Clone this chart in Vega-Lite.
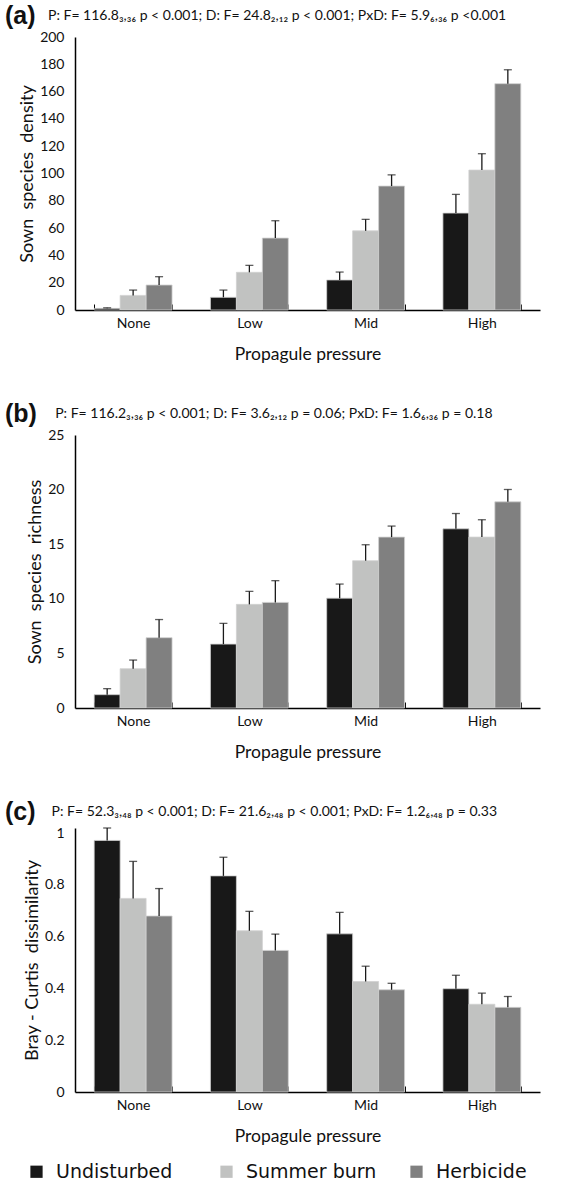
{
  "$schema": "https://vega.github.io/schema/vega-lite/v6.json",
  "padding": {"left": 5, "top": 4, "right": 2, "bottom": 5},
  "background": "white",
  "datasets": {
    "bars": [
      {"panel": "a", "pressure": "None", "treatment": "Undisturbed", "value": 1.2, "err": 1.6},
      {"panel": "a", "pressure": "None", "treatment": "Summer burn", "value": 10.7, "err": 14.6},
      {"panel": "a", "pressure": "None", "treatment": "Herbicide", "value": 18.3, "err": 24.4},
      {"panel": "a", "pressure": "Low", "treatment": "Undisturbed", "value": 9.3, "err": 14.6},
      {"panel": "a", "pressure": "Low", "treatment": "Summer burn", "value": 27.6, "err": 32.7},
      {"panel": "a", "pressure": "Low", "treatment": "Herbicide", "value": 52.7, "err": 65.4},
      {"panel": "a", "pressure": "Mid", "treatment": "Undisturbed", "value": 22.0, "err": 27.8},
      {"panel": "a", "pressure": "Mid", "treatment": "Summer burn", "value": 58.0, "err": 66.4},
      {"panel": "a", "pressure": "Mid", "treatment": "Herbicide", "value": 90.8, "err": 99.0},
      {"panel": "a", "pressure": "High", "treatment": "Undisturbed", "value": 71.0, "err": 84.7},
      {"panel": "a", "pressure": "High", "treatment": "Summer burn", "value": 102.5, "err": 114.5},
      {"panel": "a", "pressure": "High", "treatment": "Herbicide", "value": 165.8, "err": 176.0},
      {"panel": "b", "pressure": "None", "treatment": "Undisturbed", "value": 1.22, "err": 1.77},
      {"panel": "b", "pressure": "None", "treatment": "Summer burn", "value": 3.6, "err": 4.39},
      {"panel": "b", "pressure": "None", "treatment": "Herbicide", "value": 6.44, "err": 8.1},
      {"panel": "b", "pressure": "Low", "treatment": "Undisturbed", "value": 5.85, "err": 7.75},
      {"panel": "b", "pressure": "Low", "treatment": "Summer burn", "value": 9.49, "err": 10.68},
      {"panel": "b", "pressure": "Low", "treatment": "Herbicide", "value": 9.67, "err": 11.66},
      {"panel": "b", "pressure": "Mid", "treatment": "Undisturbed", "value": 10.06, "err": 11.35},
      {"panel": "b", "pressure": "Mid", "treatment": "Summer burn", "value": 13.49, "err": 14.95},
      {"panel": "b", "pressure": "Mid", "treatment": "Herbicide", "value": 15.65, "err": 16.66},
      {"panel": "b", "pressure": "High", "treatment": "Undisturbed", "value": 16.41, "err": 17.81},
      {"panel": "b", "pressure": "High", "treatment": "Summer burn", "value": 15.65, "err": 17.24},
      {"panel": "b", "pressure": "High", "treatment": "Herbicide", "value": 18.88, "err": 20.01},
      {"panel": "c", "pressure": "None", "treatment": "Undisturbed", "value": 0.972, "err": 1.02},
      {"panel": "c", "pressure": "None", "treatment": "Summer burn", "value": 0.748, "err": 0.891},
      {"panel": "c", "pressure": "None", "treatment": "Herbicide", "value": 0.68, "err": 0.786},
      {"panel": "c", "pressure": "Low", "treatment": "Undisturbed", "value": 0.835, "err": 0.907},
      {"panel": "c", "pressure": "Low", "treatment": "Summer burn", "value": 0.623, "err": 0.698},
      {"panel": "c", "pressure": "Low", "treatment": "Herbicide", "value": 0.547, "err": 0.61},
      {"panel": "c", "pressure": "Mid", "treatment": "Undisturbed", "value": 0.611, "err": 0.694},
      {"panel": "c", "pressure": "Mid", "treatment": "Summer burn", "value": 0.427, "err": 0.486},
      {"panel": "c", "pressure": "Mid", "treatment": "Herbicide", "value": 0.395, "err": 0.42},
      {"panel": "c", "pressure": "High", "treatment": "Undisturbed", "value": 0.399, "err": 0.451},
      {"panel": "c", "pressure": "High", "treatment": "Summer burn", "value": 0.339, "err": 0.382},
      {"panel": "c", "pressure": "High", "treatment": "Herbicide", "value": 0.327, "err": 0.369}
    ]
  },
  "config": {
    "view": {"stroke": null},
    "font": "Lato",
    "axis": {
      "domainColor": "#000000",
      "domainWidth": 1.5,
      "labelFont": "Lato",
      "labelFontSize": 14,
      "labelColor": "#111111",
      "labelOverlap": false,
      "labelSeparation": -20,
      "titleFont": "Lato",
      "titleFontSize": 17.5,
      "titleFontWeight": "normal",
      "titleColor": "#111111",
      "grid": false
    },
    "axisQuantitative": {"labelOverlap": false, "labelSeparation": -20},
    "axisX": {
      "tickBand": "extent",
      "tickColor": "#000000",
      "tickSize": -6,
      "labelAngle": 0,
      "labelPadding": 12,
      "titlePadding": 15
    },
    "axisY": {
      "ticks": false,
      "labelPadding": 11,
      "titlePadding": 3,
      "titleFontSize": 18,
      "labelOverlap": false
    },
    "title": {
      "anchor": "start",
      "frame": "group",
      "font": "Liberation Sans",
      "fontSize": 25,
      "fontWeight": "bold",
      "color": "#111111",
      "dx": -70,
      "offset": 1,
      "subtitleFont": "Lato",
      "subtitleFontSize": 14,
      "subtitleColor": "#111111",
      "subtitlePadding": -20
    },
    "legend": {
      "orient": "none",
      "legendX": -48,
      "legendY": 1125,
      "direction": "horizontal",
      "title": null,
      "symbolType": "square",
      "symbolSize": 150,
      "symbolStrokeWidth": 0,
      "labelFont": "DejaVu Sans",
      "labelFontSize": 19,
      "labelColor": "#111111",
      "gridAlign": "all",
      "columnPadding": 30,
      "labelOffset": 10
    },
    "concat": {"spacing": 39}
  },
  "resolve": {"scale": {"color": "shared"}, "legend": {"color": "shared"}},
  "vconcat": [
    {
      "width": 465,
      "height": 273,
      "data": {"name": "bars"},
      "transform": [{"filter": "datum.panel == 'a'"}],
      "title": {"text": "(a)", "subtitle": "\u200b\u00a0\u00a0\u00a0\u00a0\u00a0\u00a0\u00a0\u00a0\u00a0\u00a0\u00a0\u00a0P: F= 116.8\u2083,\u2083\u2086 p < 0.001; D: F= 24.8\u2082,\u2081\u2082 p < 0.001; PxD: F= 5.9\u2086,\u2083\u2086 p <0.001"},
      "encoding": {
        "x": {"field": "pressure", "type": "nominal", "sort": ["None", "Low", "Mid", "High"], "scale": {"paddingInner": 0.33, "paddingOuter": 0.165}, "axis": {"title": "Propagule pressure"}},
        "xOffset": {"field": "treatment", "type": "nominal", "sort": ["Undisturbed", "Summer burn", "Herbicide"]},
        "y": {"field": "value", "type": "quantitative", "scale": {"domain": [0, 200]}, "axis": {"values": [0, 20, 40, 60, 80, 100, 120, 140, 160, 180, 200], "labelOverlap": false, "labelSeparation": -20, "title": "Sown\u00a0 species\u00a0 density"}}
      },
      "layer": [
        {
          "mark": {"type": "bar", "stroke": "#d0d0d0", "strokeWidth": 0.8},
          "encoding": {
            "color": {"field": "treatment", "type": "nominal", "sort": ["Undisturbed", "Summer burn", "Herbicide"], "scale": {"domain": ["Undisturbed", "Summer burn", "Herbicide"], "range": ["#181818", "#c1c2c1", "#808080"]}}
          }
        },
        {
          "mark": {"type": "rule", "color": "#1a1a1a", "strokeWidth": 1.3},
          "encoding": {"y2": {"field": "err"}}
        },
        {
          "mark": {"type": "tick", "color": "#1a1a1a", "thickness": 1.3, "size": 8},
          "encoding": {"y": {"field": "err", "type": "quantitative"}}
        }
      ]
    },
    {
      "width": 465,
      "height": 273,
      "data": {"name": "bars"},
      "transform": [{"filter": "datum.panel == 'b'"}],
      "title": {"text": "(b)", "subtitle": "\u200b\u00a0\u00a0\u00a0\u00a0\u00a0\u00a0\u00a0\u00a0\u00a0\u00a0\u00a0\u00a0\u00a0\u00a0P: F= 116.2\u2083,\u2083\u2086 p < 0.001; D: F= 3.6\u2082,\u2081\u2082 p = 0.06; PxD: F= 1.6\u2086,\u2083\u2086 p = 0.18"},
      "encoding": {
        "x": {"field": "pressure", "type": "nominal", "sort": ["None", "Low", "Mid", "High"], "scale": {"paddingInner": 0.33, "paddingOuter": 0.165}, "axis": {"title": "Propagule pressure"}},
        "xOffset": {"field": "treatment", "type": "nominal", "sort": ["Undisturbed", "Summer burn", "Herbicide"]},
        "y": {"field": "value", "type": "quantitative", "scale": {"domain": [0, 25]}, "axis": {"values": [0, 5, 10, 15, 20, 25], "labelOverlap": false, "title": "Sown\u00a0 species\u00a0 richness"}}
      },
      "layer": [
        {
          "mark": {"type": "bar", "stroke": "#d0d0d0", "strokeWidth": 0.8},
          "encoding": {
            "color": {"field": "treatment", "type": "nominal", "sort": ["Undisturbed", "Summer burn", "Herbicide"], "scale": {"domain": ["Undisturbed", "Summer burn", "Herbicide"], "range": ["#181818", "#c1c2c1", "#808080"]}}
          }
        },
        {
          "mark": {"type": "rule", "color": "#1a1a1a", "strokeWidth": 1.3},
          "encoding": {"y2": {"field": "err"}}
        },
        {
          "mark": {"type": "tick", "color": "#1a1a1a", "thickness": 1.3, "size": 8},
          "encoding": {"y": {"field": "err", "type": "quantitative"}}
        }
      ]
    },
    {
      "width": 465,
      "height": 264,
      "data": {"name": "bars"},
      "transform": [{"filter": "datum.panel == 'c'"}],
      "title": {"text": "(c)", "subtitle": "\u200b\u00a0\u00a0\u00a0\u00a0\u00a0\u00a0\u00a0\u00a0\u00a0\u00a0\u00a0\u00a0\u00a0P: F= 52.3\u2083,\u2084\u2088 p < 0.001; D: F= 21.6\u2082,\u2084\u2088 p < 0.001; PxD: F= 1.2\u2086,\u2084\u2088 p = 0.33"},
      "encoding": {
        "x": {"field": "pressure", "type": "nominal", "sort": ["None", "Low", "Mid", "High"], "scale": {"paddingInner": 0.33, "paddingOuter": 0.165}, "axis": {"title": "Propagule pressure"}},
        "xOffset": {"field": "treatment", "type": "nominal", "sort": ["Undisturbed", "Summer burn", "Herbicide"]},
        "y": {"field": "value", "type": "quantitative", "scale": {"domain": [0, 1.02], "nice": false}, "axis": {"values": [0, 0.2, 0.4, 0.6, 0.8, 1], "format": "~g", "labelOverlap": false, "title": "Bray - Curtis\u00a0 dissimilarity"}}
      },
      "layer": [
        {
          "mark": {"type": "bar", "stroke": "#d0d0d0", "strokeWidth": 0.8},
          "encoding": {
            "color": {"field": "treatment", "type": "nominal", "sort": ["Undisturbed", "Summer burn", "Herbicide"], "scale": {"domain": ["Undisturbed", "Summer burn", "Herbicide"], "range": ["#181818", "#c1c2c1", "#808080"]}}
          }
        },
        {
          "mark": {"type": "rule", "color": "#1a1a1a", "strokeWidth": 1.3},
          "encoding": {"y2": {"field": "err"}}
        },
        {
          "mark": {"type": "tick", "color": "#1a1a1a", "thickness": 1.3, "size": 8},
          "encoding": {"y": {"field": "err", "type": "quantitative"}}
        }
      ]
    }
  ]
}
